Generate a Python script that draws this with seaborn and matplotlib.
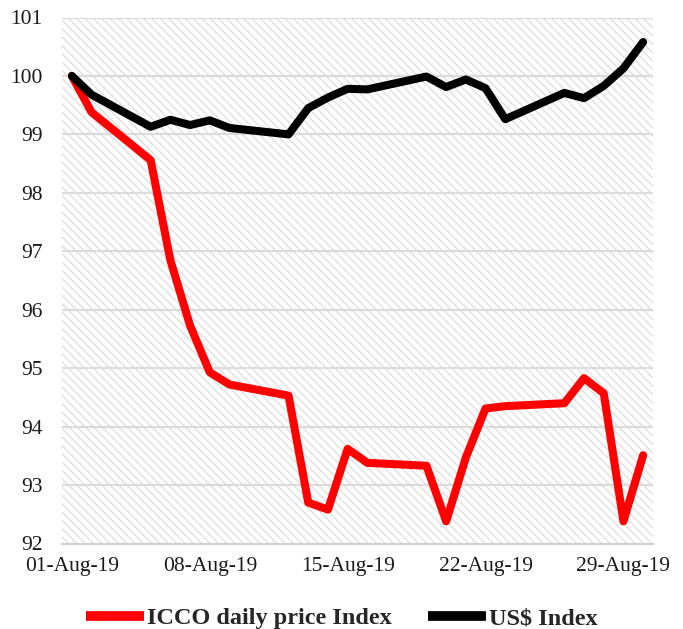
import numpy as np
import pandas as pd
import matplotlib
matplotlib.use("Agg")
import matplotlib.pyplot as plt
import seaborn as sns
from matplotlib.patches import Rectangle

dates = ["2019-08-01", "2019-08-02", "2019-08-05", "2019-08-06", "2019-08-07", "2019-08-08",
         "2019-08-09", "2019-08-12", "2019-08-13", "2019-08-14", "2019-08-15", "2019-08-16",
         "2019-08-19", "2019-08-20", "2019-08-21", "2019-08-22", "2019-08-23", "2019-08-26",
         "2019-08-27", "2019-08-28", "2019-08-29", "2019-08-30"]
icco = [100.0, 99.38, 98.56, 96.85, 95.73, 94.93, 94.72, 94.53, 92.70, 92.58, 93.62, 93.38,
        93.33, 92.38, 93.47, 94.31, 94.35, 94.40, 94.83, 94.57, 92.38, 93.51]
usd = [100.0, 99.68, 99.13, 99.25, 99.16, 99.24, 99.11, 99.00, 99.45, 99.63, 99.78, 99.77,
       99.99, 99.81, 99.94, 99.79, 99.26, 99.71, 99.62, 99.83, 100.13, 100.58]
series_names = ["ICCO daily price Index", "US$ Index"]
tick_labels = ["01-Aug-19", "08-Aug-19", "15-Aug-19", "22-Aug-19", "29-Aug-19"]

sns.set_theme(style="white")
plt.rcParams["font.family"] = ["Liberation Serif", "DejaVu Serif"]
plt.rcParams["hatch.linewidth"] = 0.7

start = pd.Timestamp("2019-08-01")
day = (pd.to_datetime(dates) - start).days
df = pd.DataFrame({
    "day": np.concatenate([day, day]),
    "value": icco + usd,
    "series": [series_names[0]] * len(icco) + [series_names[1]] * len(usd),
})

fig = plt.figure(figsize=(6.83, 6.29), dpi=100)
ax = fig.add_axes([62 / 683, 1 - 543.5 / 629, (653 - 62) / 683, (543.5 - 17.5) / 629])

ax.add_patch(Rectangle((0, 0), 1, 1, transform=ax.transAxes, facecolor="white",
                       edgecolor="#d6d6d6", hatch="\\\\\\\\", linewidth=0, zorder=0))

sns.lineplot(data=df, x="day", y="value", hue="series",
             palette={series_names[0]: "#ff0000", series_names[1]: "#000000"},
             linewidth=5.8, ax=ax, zorder=3)

ax.set_xlim(-0.5, 29.5)
ax.set_ylim(92, 101)
ax.set_yticks(range(92, 102))
tick_pos = [(pd.to_datetime(t, format="%d-%b-%y") - start).days for t in tick_labels]
ax.set_xticks(tick_pos)
ax.set_xticklabels(tick_labels)
ax.set_xticks([p - 0.5 for p in tick_pos], minor=True)
ax.tick_params(axis="x", which="major", length=0, labelsize=15.5, pad=10, colors="#1a1a1a")
ax.tick_params(axis="x", which="minor", length=5, width=1.2, color="#d0d0d0", direction="out")
ax.tick_params(axis="y", length=0, labelsize=15.5, pad=14, colors="#1a1a1a")
ax.set_xlabel("")
ax.set_ylabel("")

ax.set_axisbelow(True)
ax.grid(axis="y", color="#dcdcdc", linewidth=1.6)
ax.grid(axis="x", visible=False)
for s in ["left", "right", "top"]:
    ax.spines[s].set_visible(False)
ax.spines["bottom"].set_color("#d0d0d0")
ax.spines["bottom"].set_linewidth(1.5)

handles, labels = ax.get_legend_handles_labels()
ax.get_legend().remove()
leg = fig.legend(handles, labels, loc="center", bbox_to_anchor=(0.5, 1 - 618 / 629),
                 ncol=2, frameon=False, handlelength=2.4, columnspacing=1.5,
                 handletextpad=0.1, prop={"weight": "bold", "size": 17.5})
for h in leg.get_lines():
    h.set_linewidth(7)
    h.set_solid_capstyle("butt")

fig.savefig("out.png", dpi=100)
